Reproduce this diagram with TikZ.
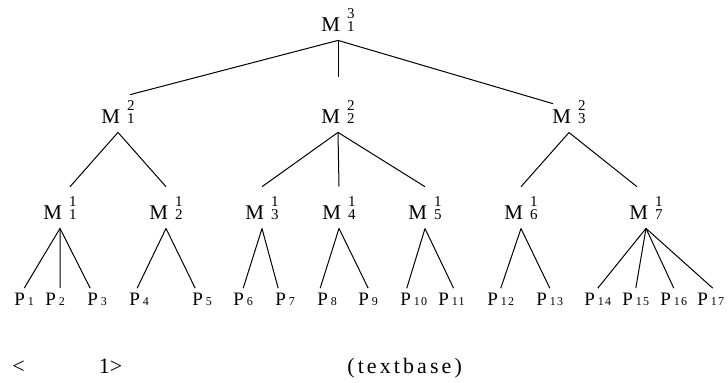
\documentclass[tikz,border=0pt]{standalone}
\usepackage{fontspec}
\setmainfont{Liberation Serif}
\newfontfamily\spacedfont[LetterSpace=14]{Liberation Serif}
\newfontfamily\subfont[LetterSpace=10]{Liberation Serif}
\usepackage{tikz}

\newcommand{\digs}{\fontsize{7.5}{7.5}\selectfont}
\newcommand{\mlab}[2]{M\hspace{3.5pt}\makebox[0pt][l]{\raisebox{6.5pt}{\digs #1}}{\digs #2}}
\newcommand{\plab}[1]{P\kern1.5pt{\subfont\fontsize{6}{6}\selectfont #1}}

\begin{document}
\begin{tikzpicture}[
            x=0.5pt, y=-0.5pt,
            mnode/.style={anchor=base, inner xsep=0pt, inner ysep=4.5pt, font=\fontsize{10.5}{12}\selectfont},
            pnode/.style={anchor=base west, inner xsep=0pt, inner ysep=2pt, font=\fontsize{9.5}{11}\selectfont},
            edge/.style={line width=0.5pt}
        ]
            \useasboundingbox (0,0) rectangle (728,382);

            % Level 3
            \node[mnode] (m31) at (338,31) {\mlab{3}{1}};

            % Level 2
            \node[mnode] (m21) at (118,123) {\mlab{2}{1}};
            \node[mnode] (m22) at (338,123) {\mlab{2}{2}};
            \node[mnode] (m23) at (569,123) {\mlab{2}{3}};

            % Level 1
            \node[mnode] (m11) at (60,219) {\mlab{1}{1}};
            \node[mnode] (m12) at (166,219) {\mlab{1}{2}};
            \node[mnode] (m13) at (262,219) {\mlab{1}{3}};
            \node[mnode] (m14) at (339,219) {\mlab{1}{4}};
            \node[mnode] (m15) at (425,219) {\mlab{1}{5}};
            \node[mnode] (m16) at (521,219) {\mlab{1}{6}};
            \node[mnode] (m17) at (646,219) {\mlab{1}{7}};

            % Leaves
            \foreach \n/\x in {1/14, 2/45, 3/87, 4/129, 5/192, 6/233, 7/275, 8/317, 9/358,
                               10/400, 11/438, 12/487, 13/536, 14/584, 15/622, 16/660, 17/697}
                \node[pnode] (p\n) at (\x,305) {\plab{\n}};

            % Edges
            \draw[edge] (m31.south) -- ([xshift=6pt, yshift=-2pt]m21.north);
            \draw[edge] (m31.south) -- ([yshift=7pt]m22.north);
            \draw[edge] (m31.south) -- ([xshift=-8pt, yshift=-6.5pt]m23.north);

            \draw[edge] (m21.south) -- ([xshift=5pt]m11.north);
            \draw[edge] (m21.south) -- (m12.north);
            \draw[edge] (m22.south) -- (m13.north);
            \draw[edge] (m22.south) -- (m14.north);
            \draw[edge] (m22.south) -- (m15.north);
            \draw[edge] (m23.south) -- (m16.north);
            \draw[edge] (m23.south) -- ([xshift=-4.5pt]m17.north);

            \foreach \a/\b/\dx in {m11/p1/0, m11/p2/2.5, m11/p3/-3.5, m12/p4/-1, m12/p5/-3.5,
                                   m13/p6/0, m13/p7/-3.5, m14/p8/-3.5, m14/p9/0, m15/p10/-3.5,
                                   m15/p11/1, m16/p12/0, m16/p13/0, m17/p14/0, m17/p15/0,
                                   m17/p16/0, m17/p17/1}
                \draw[edge] (\a.south) -- ([xshift=\dx pt]\b.north);

            % Labels
            \node[anchor=base west, inner sep=0pt, font=\fontsize{11}{13}\selectfont] (note) at (12,373) {<\hspace{37pt}1>};
            \node[anchor=base west, inner sep=0pt, font=\fontsize{11}{13}\selectfont\spacedfont] (base) at (347,373) {(textbase)};
        \end{tikzpicture}
\end{document}
